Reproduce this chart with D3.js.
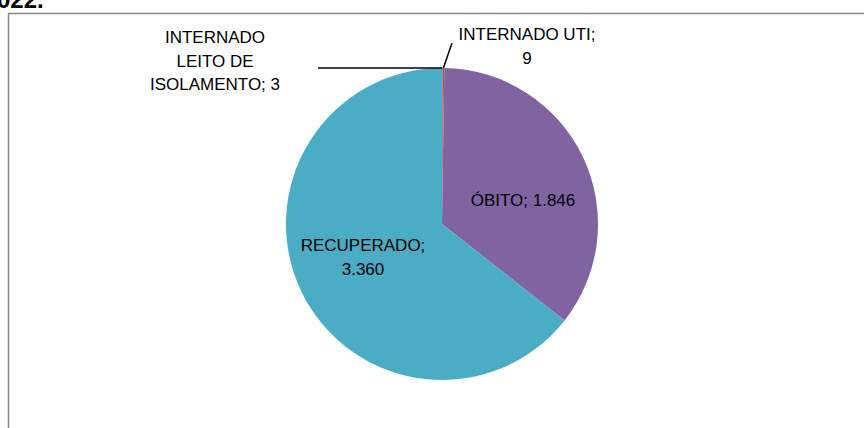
<!DOCTYPE html>
<html>
<head>
<meta charset="utf-8">
<script src="https://cdn.jsdelivr.net/npm/d3@7"></script>
<style>
  html, body { margin: 0; padding: 0; background: #fff; }
  svg { display: block; }
</style>
</head>
<body>
<svg id="chart"></svg>
<script>
'use strict';

// data (Excel pie, clockwise from 12 o'clock)
var categories = ["INTERNADO LEITO DE ISOLAMENTO", "INTERNADO UTI", "ÓBITO", "RECUPERADO"];
var values = [3, 9, 1846, 3360];
var colors = ["#4F81BD", "#C0504D", "#8064A2", "#4BACC6"];

var width = 864, height = 428;
var cx = 442, cy = 224, radius = 156;
var font = "'Liberation Sans', Arial, sans-serif";

var svg = d3.select("#chart")
    .attr("width", width)
    .attr("height", height);

// title remnant cut off at the top
svg.append("text")
    .attr("x", -3)
    .attr("y", 8)
    .text("022.")
    .attr("font-family", font)
    .attr("font-size", "24px")
    .attr("font-weight", "bold")
    .attr("fill", "#000");

// chart frame (only top and left visible)
svg.append("rect")
    .attr("x", 8.5)
    .attr("y", 13.5)
    .attr("width", 900)
    .attr("height", 500)
    .attr("fill", "none")
    .attr("stroke", "#868686")
    .attr("stroke-width", 1.5);

var pie = d3.pie().sort(null).value(function(d) { return d; });
var arcs = pie(values);
var arc = d3.arc().innerRadius(0).outerRadius(radius);

var g = svg.append("g")
    .attr("transform", "translate(" + cx + "," + cy + ")");

g.selectAll("path.slice")
    .data(arcs)
    .enter().append("path")
    .attr("class", "slice")
    .attr("d", arc)
    .attr("fill", function(d, i) { return colors[i]; });

// leader lines for the two tiny slices
var edge = d3.arc().innerRadius(radius).outerRadius(radius);
var p0 = edge.centroid(arcs[0]);
var p1 = edge.centroid(arcs[1]);

g.append("line")
    .attr("x1", p0[0]).attr("y1", p0[1])
    .attr("x2", -124).attr("y2", p0[1])
    .attr("stroke", "#000").attr("stroke-width", 1.5);

g.append("line")
    .attr("x1", p1[0]).attr("y1", p1[1])
    .attr("x2", 10).attr("y2", -181)
    .attr("stroke", "#000").attr("stroke-width", 1.5);

// label layout (offsets from pie centre), lines of text
var fmt = function(v) { return d3.format(",")(v).replace(/,/g, "."); };
var labels = [
  { dx: -227, dy: -187, lines: ["INTERNADO", "LEITO DE", "ISOLAMENTO; " + values[0]] },
  { dx: 85,   dy: -190, lines: ["INTERNADO UTI;", String(values[1])] },
  { dx: 81,   dy: -24,  lines: ["ÓBITO; " + fmt(values[2])] },
  { dx: -79,  dy: 21,   lines: ["RECUPERADO;", fmt(values[3])] }
];

var lineH = 23.5;
labels.forEach(function(l) {
  var t = g.append("text")
      .attr("text-anchor", "middle")
      .attr("font-family", font)
      .attr("font-size", "17px")
      .attr("fill", "#000");
  l.lines.forEach(function(s, k) {
    t.append("tspan")
      .attr("x", l.dx)
      .attr("y", l.dy + k * lineH + 6)
      .text(s);
  });
});
</script>
</body>
</html>
